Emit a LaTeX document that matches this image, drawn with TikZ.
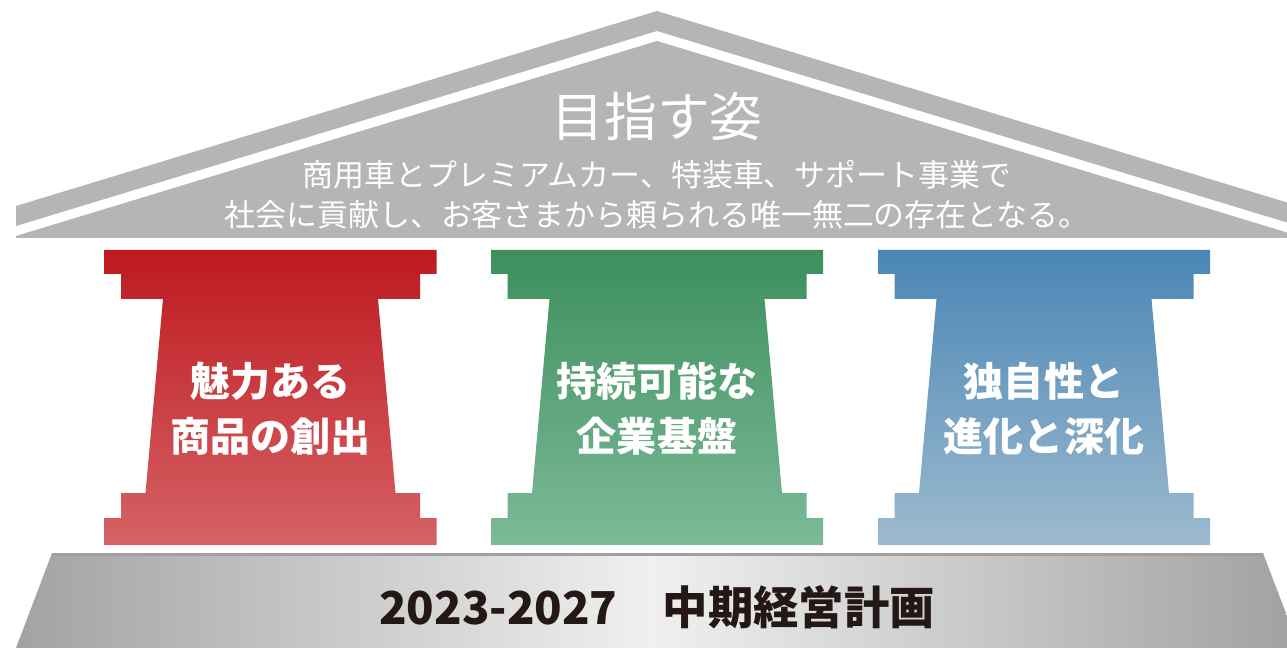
\documentclass[tikz,border=0pt]{standalone}
\usepackage{fontspec}
\newfontfamily\jp{Noto Sans CJK JP}
\definecolor{roofgray}{HTML}{B4B5B4}
\definecolor{redtop}{HTML}{BD1A20}
\definecolor{redbot}{HTML}{D66265}
\definecolor{greentop}{HTML}{3D8F5C}
\definecolor{greenbot}{HTML}{7CBA98}
\definecolor{bluetop}{HTML}{4A86B5}
\definecolor{bluebot}{HTML}{9DBACF}
\definecolor{baseedge}{HTML}{A2A2A2}
\definecolor{basemid}{HTML}{F0F0F0}
\definecolor{basetopline}{HTML}{A0A0A0}
\definecolor{ink}{HTML}{231815}
\newcommand{\pillarbody}[3]{%
  \begin{scope}[shift={(#1,0)}]
    \shade[top color=#2,bottom color=#3]
      (-166,250) -- (166,250) -- (166,274) -- (149.5,274) -- (149.5,299) -- (107.5,299)
      -- (125,493) -- (149.5,493) -- (149.5,518) -- (166,518) -- (166,545) -- (-166,545)
      -- (-166,518) -- (-149.5,518) -- (-149.5,493) -- (-125,493) -- (-107.5,299)
      -- (-149.5,299) -- (-149.5,274) -- (-166,274) -- cycle;
  \end{scope}}
\tikzset{
  pillartext/.style={text=white, align=center, inner sep=0pt,
    font=\jp\bfseries\fontsize{22.8pt}{31.2pt}\selectfont},
  titletext/.style={text=white, inner sep=0pt, font=\jp\fontsize{30pt}{33pt}\selectfont},
  subtext/.style={text=white, align=center, inner sep=0pt,
    font=\jp\fontsize{17.6pt}{22.7pt}\selectfont},
  basetext/.style={text=ink, inner sep=0pt, font=\jp\bfseries\fontsize{25.8pt}{28pt}\selectfont}
}
\begin{document}
\begin{tikzpicture}[x=0.02cm,y=-0.02cm]
\useasboundingbox (0,0) rectangle (1287,648);
% roof
\fill[roofgray] (16,206) -- (657,11) -- (1287,202.5) -- (1287,222.5) -- (657,31) -- (16,226) -- cycle;
\fill[roofgray] (16,238) -- (16,236) -- (657,41) -- (1287,232.5) -- (1287,238) -- cycle;
\node[titletext] (title) at (657,117) {目指す姿};
\node[subtext] (vision) at (657,195) {商用車とプレミアムカー、特装車、サポート事業で\\社会に貢献し、お客さまから頼られる唯一無二の存在となる。};
% pillars
\pillarbody{270.5}{redtop}{redbot}
\pillarbody{657}{greentop}{greenbot}
\pillarbody{1044}{bluetop}{bluebot}
\node[pillartext] (p1) at (270.5,409) {魅力ある\\商品の創出};
\node[pillartext] (p2) at (657,409) {持続可能な\\企業基盤};
\node[pillartext] (p3) at (1044,409) {独自性と\\進化と深化};
% base
\shade[left color=baseedge, right color=baseedge, middle color=basemid]
  (52,553) -- (1263,553) -- (1287,616) -- (1287,648) -- (16,648) -- cycle;
\draw[draw=basetopline, line width=1.7pt] (52,554.5) -- (1263,554.5);
\node[basetext] (plan) at (657,607) {2023-2027　中期経営計画};
\end{tikzpicture}
\end{document}
